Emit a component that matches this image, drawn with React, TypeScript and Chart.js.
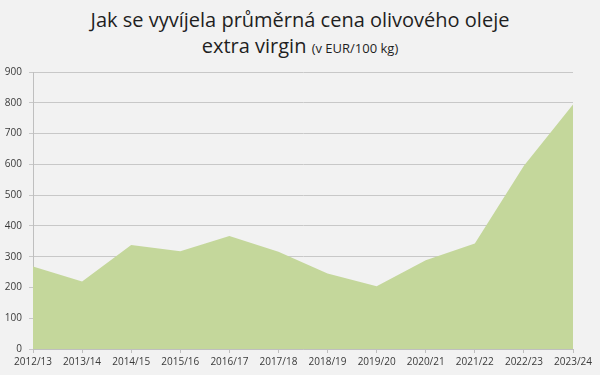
import React, { useEffect, useRef } from "react";
import { Chart, registerables } from "chart.js";

Chart.register(...registerables);

const categories = [
  "2012/13", "2013/14", "2014/15", "2015/16", "2016/17", "2017/18",
  "2018/19", "2019/20", "2020/21", "2021/22", "2022/23", "2023/24",
];
const prices = [268, 219, 338, 318, 367, 316, 245, 204, 288, 343, 595, 794];
const yMin = 0;
const yMax = 900;
const yStep = 100;

const titleLine1 = "Jak se vyvíjela průměrná cena olivového oleje";
const titleLine2Main = "extra virgin";
const titleLine2Unit = "(v EUR/100 kg)";

const FONT = "'Open Sans', 'DejaVu Sans', sans-serif";

export default function App() {
  const canvasRef = useRef<HTMLCanvasElement | null>(null);

  useEffect(() => {
    document.body.style.margin = "0";
    const canvas = canvasRef.current;
    if (!canvas) return;
    const chart = new Chart(canvas, {
      type: "line",
      data: {
        labels: categories,
        datasets: [
          {
            data: prices,
            fill: "origin",
            backgroundColor: "#c4d79b",
            borderWidth: 0,
            borderColor: "rgba(0,0,0,0)",
            pointRadius: 0,
            tension: 0,
          },
        ],
      },
      options: {
        responsive: false,
        animation: false,
        layout: { padding: { top: 72, right: 27, left: 0, bottom: 0 } },
        plugins: {
          legend: { display: false },
          tooltip: { enabled: false },
          title: { display: false },
        },
        scales: {
          x: {
            offset: false,
            grid: {
              display: true,
              drawOnChartArea: false,
              drawTicks: true,
              tickLength: 4,
              color: "#bfbfbf",
            },
            border: { color: "#bfbfbf" },
            ticks: {
              autoSkip: false,
              maxRotation: 0,
              minRotation: 0,
              padding: 3,
              color: "#3a3a3a",
              font: { family: FONT, size: 10 },
            },
            afterFit: (axis: any) => {
              axis.height = 26;
            },
          },
          y: {
            min: yMin,
            max: yMax,
            ticks: {
              stepSize: yStep,
              padding: 7,
              color: "#3a3a3a",
              font: { family: FONT, size: 10 },
            },
            grid: {
              color: "#c8c8c8",
              tickLength: 4,
              drawTicks: true,
            },
            border: { color: "#bfbfbf" },
            afterFit: (axis: any) => {
              axis.width = 33;
            },
          },
        },
      },
    });
    return () => chart.destroy();
  }, []);

  return (
    <div
      style={{
        position: "fixed",
        left: 0,
        top: 0,
        width: 600,
        height: 375,
        background: "#f2f2f2",
        overflow: "hidden",
      }}
    >
      <div
        style={{
          position: "absolute",
          top: 9.5,
          left: 0,
          width: 600,
          textAlign: "center",
          fontFamily: FONT,
          fontSize: 20,
          lineHeight: 1,
          color: "#1f1f1f",
          letterSpacing: 0,
          whiteSpace: "nowrap",
        }}
      >
        {titleLine1}
      </div>
      <div
        style={{
          position: "absolute",
          top: 35.5,
          left: 0,
          width: 600,
          textAlign: "center",
          fontFamily: FONT,
          fontSize: 20,
          lineHeight: 1,
          color: "#1f1f1f",
          letterSpacing: 0,
          whiteSpace: "nowrap",
        }}
      >
        {titleLine2Main}{" "}
        <span style={{ fontSize: 13 }}>{titleLine2Unit}</span>
      </div>
      <canvas
        ref={canvasRef}
        width={600}
        height={375}
        style={{ position: "absolute", left: 0, top: 0 }}
      />
    </div>
  );
}
